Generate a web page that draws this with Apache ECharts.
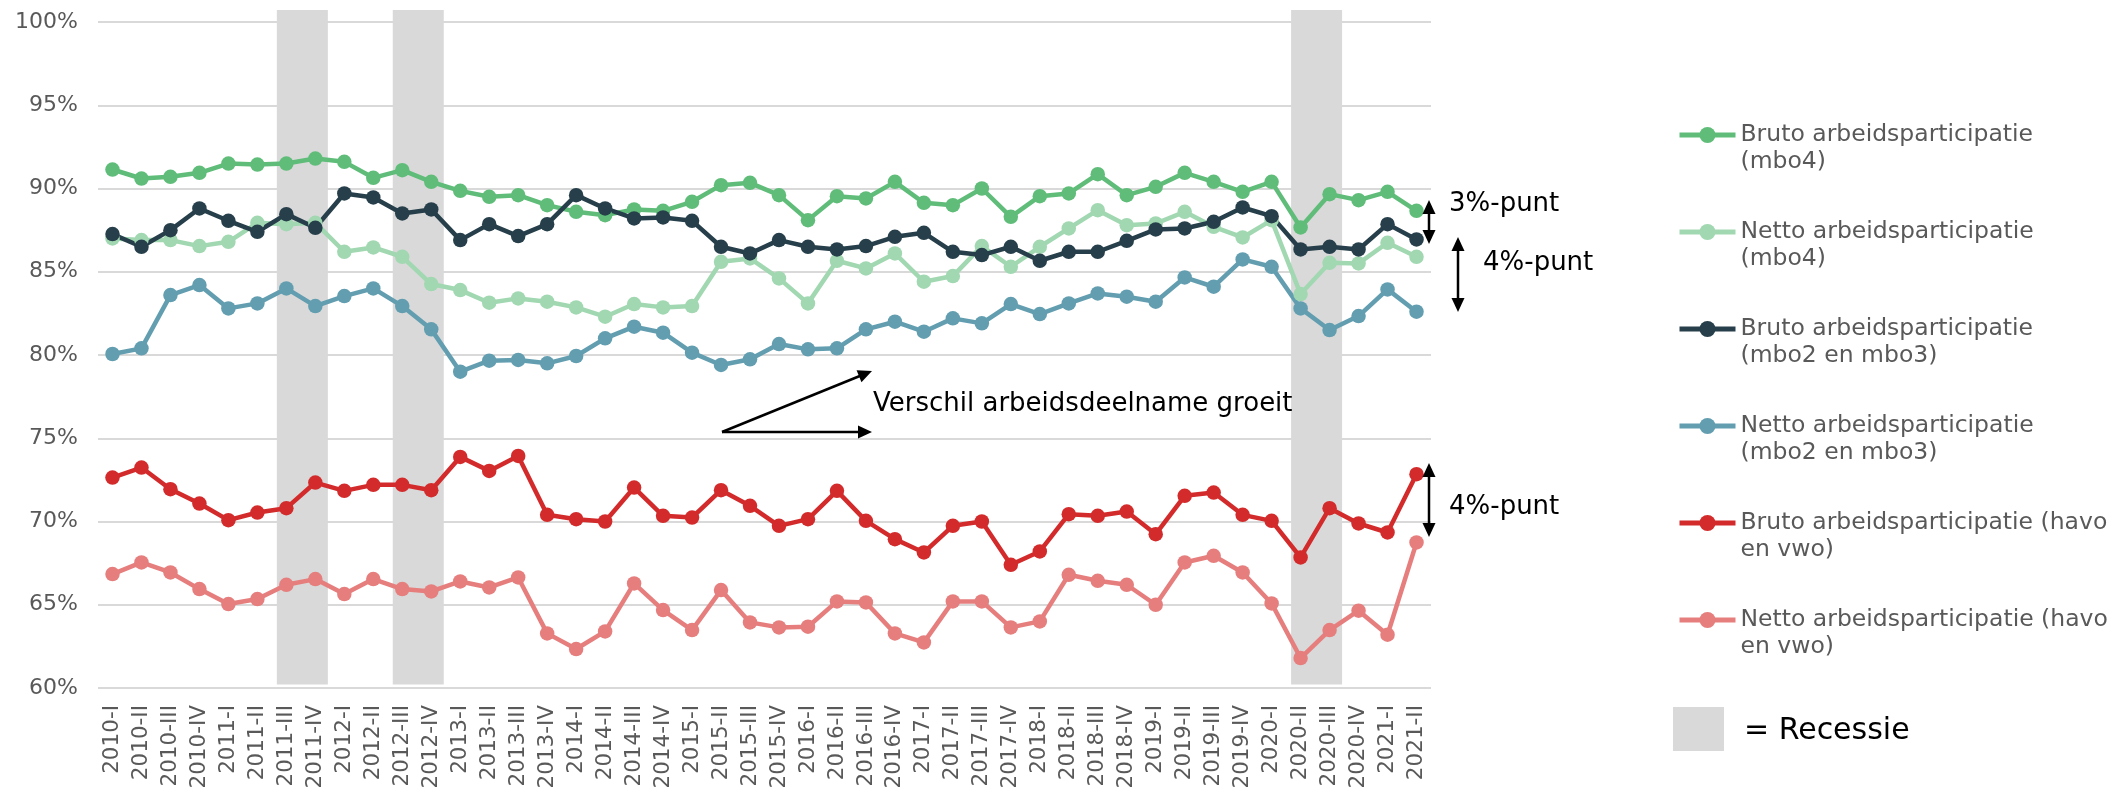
<!DOCTYPE html>
<html>
<head>
<meta charset="utf-8">
<script src="https://cdn.jsdelivr.net/npm/echarts@6/dist/echarts.min.js"></script>
<style>
html,body{margin:0;padding:0;background:#fff;}
#chart{width:2126px;height:797px;}
</style>
</head>
<body>
<div id="chart"></div>
<script>
// ---------- DATA ----------
var categories = [
  '2010-I','2010-II','2010-III','2010-IV','2011-I','2011-II','2011-III','2011-IV',
  '2012-I','2012-II','2012-III','2012-IV','2013-I','2013-II','2013-III','2013-IV',
  '2014-I','2014-II','2014-III','2014-IV','2015-I','2015-II','2015-III','2015-IV',
  '2016-I','2016-II','2016-III','2016-IV','2017-I','2017-II','2017-III','2017-IV',
  '2018-I','2018-II','2018-III','2018-IV','2019-I','2019-II','2019-III','2019-IV',
  '2020-I','2020-II','2020-III','2020-IV','2021-I','2021-II'
];

var brutoMbo4 = [91.14, 90.6, 90.7, 90.94, 91.5, 91.44, 91.5, 91.8, 91.6, 90.64, 91.1, 90.4, 89.86, 89.5, 89.6, 89.0, 88.6, 88.4, 88.74, 88.66, 89.2,
  90.2, 90.34, 89.6, 88.1, 89.54, 89.4, 90.4, 89.14, 89.0, 90.0, 88.3, 89.54, 89.7, 90.86, 89.6, 90.1, 90.94, 90.4, 89.8, 90.4, 87.66, 89.66, 89.3, 89.8, 88.66];

var nettoMbo4 = [87.0, 86.9, 86.9, 86.54, 86.8, 87.94, 87.86, 87.94, 86.2, 86.46, 85.9, 84.26, 83.9, 83.14, 83.4, 83.2, 82.86, 82.3, 83.06, 82.86, 82.94,
  85.6, 85.8, 84.6, 83.1, 85.66, 85.2, 86.1, 84.4, 84.74, 86.54, 85.3, 86.5, 87.6, 88.7, 87.8, 87.9, 88.6, 87.7, 87.06, 88.1, 83.66, 85.54, 85.5, 86.74, 85.9];

var brutoMbo23 = [87.26, 86.5, 87.5, 88.8, 88.06, 87.4, 88.46, 87.64, 89.7, 89.46, 88.5, 88.74, 86.9, 87.86, 87.14, 87.86, 89.6, 88.8, 88.2, 88.26, 88.06,
  86.5, 86.1, 86.9, 86.5, 86.34, 86.54, 87.1, 87.34, 86.2, 86.0, 86.5, 85.66, 86.2, 86.2, 86.86, 87.54, 87.6, 88.0, 88.86, 88.34, 86.34, 86.5, 86.34, 87.86, 86.94];

var nettoMbo23 = [80.06, 80.4, 83.6, 84.2, 82.8, 83.1, 84.0, 82.94, 83.54, 84.0, 82.94, 81.54, 79.0, 79.66, 79.7, 79.5, 79.94, 81.0, 81.7, 81.34, 80.14,
  79.4, 79.74, 80.66, 80.34, 80.4, 81.54, 82.0, 81.4, 82.2, 81.9, 83.06, 82.46, 83.1, 83.7, 83.5, 83.2, 84.66, 84.1, 85.74, 85.3, 82.8, 81.5, 82.34, 83.94, 82.6];

var brutoHavoVwo = [72.64, 73.24, 71.94, 71.08, 70.08, 70.54, 70.8, 72.34, 71.84, 72.2, 72.2, 71.88, 73.88, 73.04, 73.94, 70.4, 70.14, 70.0, 72.04, 70.34, 70.24,
  71.88, 70.94, 69.74, 70.14, 71.84, 70.04, 68.94, 68.14, 69.74, 70.0, 67.4, 68.2, 70.44, 70.34, 70.6, 69.24, 71.54, 71.74, 70.4, 70.04, 67.84, 70.8, 69.88, 69.34, 72.84];

var nettoHavoVwo = [66.84, 67.54, 66.94, 65.94, 65.04, 65.34, 66.2, 66.54, 65.64, 66.54, 65.94, 65.8, 66.4, 66.04, 66.64, 63.28, 62.34, 63.4, 66.28, 64.68, 63.48,
  65.88, 63.94, 63.64, 63.68, 65.2, 65.14, 63.28, 62.74, 65.2, 65.2, 63.64, 64.0, 66.8, 66.44, 66.2, 65.0, 67.54, 67.94, 66.94, 65.08, 61.8, 63.48, 64.64, 63.2, 68.74];

var recessions = [['2011-III','2011-IV'], ['2012-III','2012-IV'], ['2020-II','2020-III']];

var yTicks = {min: 60, max: 100, interval: 5};

var seriesNames = [
  'Bruto arbeidsparticipatie (mbo4)',
  'Netto arbeidsparticipatie (mbo4)',
  'Bruto arbeidsparticipatie (mbo2 en mbo3)',
  'Netto arbeidsparticipatie (mbo2 en mbo3)',
  'Bruto arbeidsparticipatie (havo en vwo)',
  'Netto arbeidsparticipatie (havo en vwo)'
];
var legendLabels = [
  'Bruto arbeidsparticipatie\n(mbo4)',
  'Netto arbeidsparticipatie\n(mbo4)',
  'Bruto arbeidsparticipatie\n(mbo2 en mbo3)',
  'Netto arbeidsparticipatie\n(mbo2 en mbo3)',
  'Bruto arbeidsparticipatie (havo\nen vwo)',
  'Netto arbeidsparticipatie (havo\nen vwo)'
];
var seriesData = [brutoMbo4, nettoMbo4, brutoMbo23, nettoMbo23, brutoHavoVwo, nettoHavoVwo];
var colors = ['#5fbd79', '#a1d8b1', '#263f4a', '#629eb0', '#d32b2b', '#e67e7e'];

// ---------- CHART ----------
var FONT = 'DejaVu Sans';
var chart = echarts.init(document.getElementById('chart'), null, {renderer: 'canvas'});

function arrowEls(x1, y1, x2, y2, both) {
  var els = [];
  var dx = x2 - x1, dy = y2 - y1, L = Math.sqrt(dx*dx + dy*dy);
  var ux = dx / L, uy = dy / L, px = -uy, py = ux;
  var hl = 14, hw = 6.5;
  var sx = both ? x1 + ux*hl*0.8 : x1, sy = both ? y1 + uy*hl*0.8 : y1;
  var ex = x2 - ux*hl*0.8, ey = y2 - uy*hl*0.8;
  els.push({type: 'polyline', shape: {points: [[sx, sy], [ex, ey]]}, style: {stroke: '#000', lineWidth: 2.5}, z: 100});
  els.push({type: 'polygon', shape: {points: [[x2, y2], [x2 - ux*hl + px*hw, y2 - uy*hl + py*hw], [x2 - ux*hl - px*hw, y2 - uy*hl - py*hw]]}, style: {fill: '#000'}, z: 100});
  if (both) {
    els.push({type: 'polygon', shape: {points: [[x1, y1], [x1 + ux*hl + px*hw, y1 + uy*hl + py*hw], [x1 + ux*hl - px*hw, y1 + uy*hl - py*hw]]}, style: {fill: '#000'}, z: 100});
  }
  return els;
}

function annText(t, x, y, size) {
  return {type: 'text', z: 100, style: {text: t, x: x, y: y, fill: '#000', font: size + 'px "' + FONT + '"', textAlign: 'left', textVerticalAlign: 'middle'}};
}

var graphics = [];
graphics = graphics.concat(arrowEls(722, 432, 872, 371, false));
graphics = graphics.concat(arrowEls(722, 432, 872, 432, false));
graphics = graphics.concat(arrowEls(1429, 200, 1429, 244, true));
graphics = graphics.concat(arrowEls(1458, 237, 1458, 312, true));
graphics = graphics.concat(arrowEls(1429, 463, 1429, 537, true));
graphics.push(annText('Verschil arbeidsdeelname groeit', 873, 404, 26));
graphics.push(annText('3%-punt', 1449, 204, 26));
graphics.push(annText('4%-punt', 1483, 263, 26));
graphics.push(annText('4%-punt', 1449, 507, 26));
graphics.push({type: 'rect', shape: {x: 1673, y: 707, width: 51, height: 44}, style: {fill: '#d9d9d9'}});
graphics.push(annText('= Recessie', 1744, 731, 30));

var series = [{
  type: 'custom',
  name: 'Recessie',
  silent: true,
  z: 1,
  encode: {x: [0, 1]},
  data: recessions.map(function (r) { return [categories.indexOf(r[0]), categories.indexOf(r[1])]; }),
  renderItem: function (params, api) {
    var cs = params.coordSys;
    var p0 = api.coord([api.value(0), yTicks.min]);
    var p1 = api.coord([api.value(1), yTicks.min]);
    var bw = api.size([1, 0])[0];
    var w = bw * 1.76;
    var cx = (p0[0] + p1[0]) / 2 + 1.5;
    var top = cs.y - 12;
    var bottom = cs.y + cs.height - 3.5;
    return {type: 'rect', shape: {x: cx - w/2, y: top, width: w, height: bottom - top}, style: {fill: '#d9d9d9'}};
  }
}];

seriesNames.forEach(function (n, i) {
  series.push({
    type: 'line',
    name: n,
    data: seriesData[i],
    symbol: 'circle',
    symbolSize: 14.5,
    showSymbol: true,
    z: 3,
    lineStyle: {width: 4.5, color: colors[i]},
    itemStyle: {color: colors[i]},
    emphasis: {disabled: true}
  });
});

var option = {
  animation: false,
  backgroundColor: '#fff',
  textStyle: {fontFamily: FONT},
  grid: {left: 98, right: 695, top: 22, bottom: 109, containLabel: false},
  xAxis: {
    type: 'category',
    data: categories,
    boundaryGap: true,
    axisLine: {show: false},
    axisTick: {show: false},
    axisLabel: {rotate: 90, interval: 0, margin: 17, fontSize: 21.5, color: '#595959', fontFamily: FONT}
  },
  yAxis: {
    type: 'value',
    min: yTicks.min, max: yTicks.max, interval: yTicks.interval,
    axisLine: {show: false},
    axisTick: {show: false},
    splitLine: {lineStyle: {color: '#d9d9d9', width: 2}},
    axisLabel: {formatter: '{value}%', margin: 20, fontSize: 22, color: '#595959', fontFamily: FONT}
  },
  legend: {
    orient: 'vertical',
    left: 1677,
    top: 94.5,
    padding: 0,
    itemWidth: 56,
    itemHeight: 20,
    itemGap: 16,
    textGap: 4,
    selectedMode: false,
    data: seriesNames,
    lineStyle: {width: 5},
    formatter: function (name) { return '\n' + legendLabels[seriesNames.indexOf(name)]; },
    textStyle: {fontSize: 23.5, lineHeight: 27, color: '#595959', fontFamily: FONT}
  },
  graphic: graphics,
  series: series
};
chart.setOption(option);
</script>
</body>
</html>
